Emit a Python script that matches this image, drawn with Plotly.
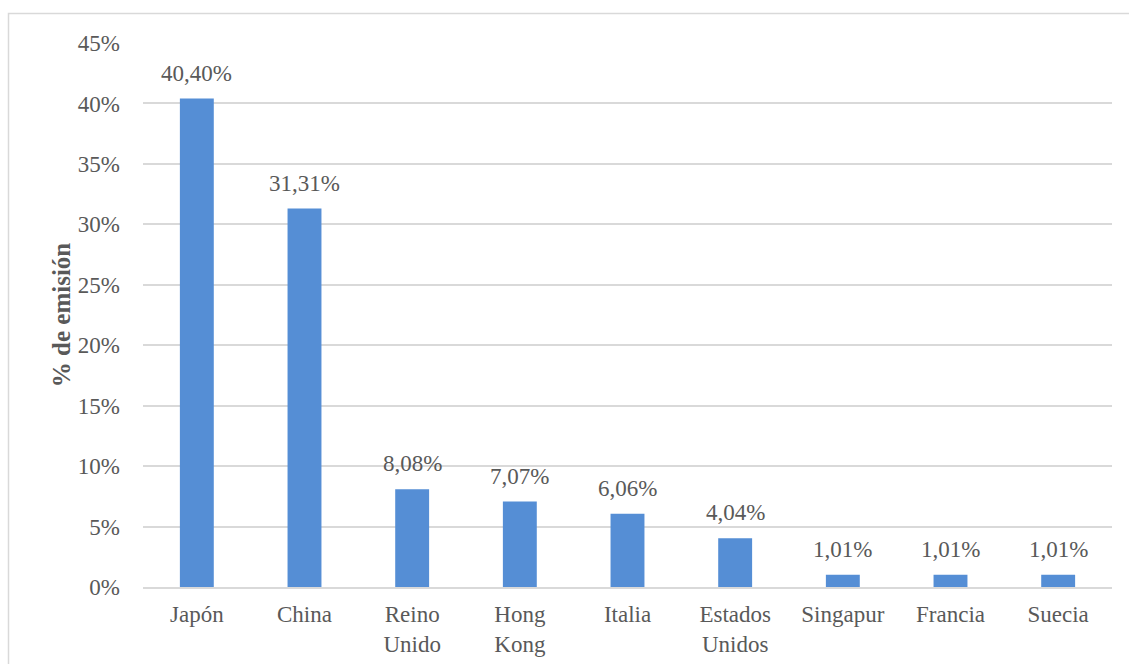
import plotly.graph_objects as go

# Share of issuance by country (%)
paises = ["Japón", "China", "Reino<br>Unido", "Hong<br>Kong", "Italia",
          "Estados<br>Unidos", "Singapur", "Francia", "Suecia"]
emision = [40.40, 31.31, 8.08, 7.07, 6.06, 4.04, 1.01, 1.01, 1.01]
ticks_y = [0, 5, 10, 15, 20, 25, 30, 35, 40, 45]

W, H = 1129, 664
ML, MR, MT, MB = 143, 17, 43, 77
TXT = "#595959"
FONT = "Liberation Serif"
FS = 23

fig = go.Figure()
fig.add_trace(go.Bar(
    x=paises, y=emision,
    marker=dict(color="#558ED5", line=dict(width=0)),
    width=0.315,
    hoverinfo="skip",
))

# Value labels above each bar
for p, v in zip(paises, emision):
    fig.add_annotation(
        x=p, y=v, text=f"{v:.2f}%".replace(".", ","),
        showarrow=False, yanchor="bottom", yshift=11,
        font=dict(family=FONT, size=FS, color=TXT),
    )

pw = W - ML - MR
ph = H - MT - MB
# Outer chart frame
fig.add_shape(
    type="rect", xref="paper", yref="paper",
    x0=(8.5 - ML) / pw, x1=(W + 10 - ML) / pw,
    y0=-(H + 10 - MT - ph) / ph, y1=1 + (MT - 13.5) / ph,
    line=dict(color="#D9D9D9", width=1.5), fillcolor="rgba(0,0,0,0)",
    layer="below",
)

fig.update_layout(
    width=W, height=H,
    margin=dict(l=ML, r=MR, t=MT, b=MB, autoexpand=False),
    paper_bgcolor="white", plot_bgcolor="white",
    showlegend=False,
    font=dict(family=FONT, size=FS, color=TXT),
    xaxis=dict(
        showgrid=False, showline=True, linecolor="#D9D9D9", linewidth=1.5,
        ticks="", ticklabelstandoff=6, automargin=False,
        tickfont=dict(family=FONT, size=FS, color=TXT),
    ),
    yaxis=dict(
        range=[0, 45], tickvals=ticks_y,
        ticktext=[f"{t}%" for t in ticks_y],
        showgrid=True, gridcolor="#D9D9D9", gridwidth=1.5,
        zeroline=False, showline=False, ticks="",
        ticklabelstandoff=22, automargin=False,
        tickfont=dict(family=FONT, size=FS, color=TXT),
        title=dict(text="<b>% de emisión</b>", standoff=0,
                   font=dict(family=FONT, size=25, color=TXT)),
    ),
)

fig.write_html("out.html")
